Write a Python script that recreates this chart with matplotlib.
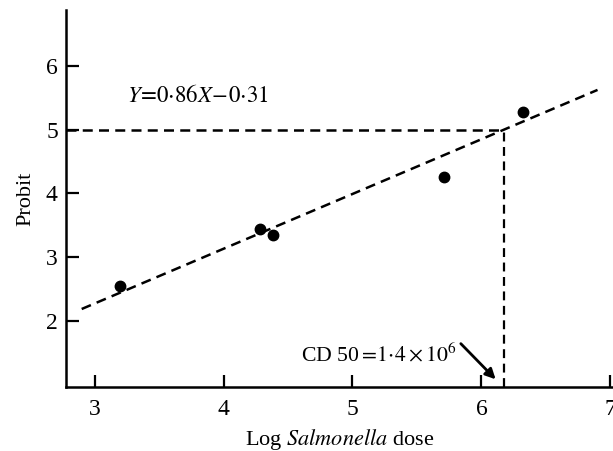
import numpy as np
import matplotlib
matplotlib.use("Agg")
import matplotlib.pyplot as plt

plt.rcParams['font.family'] = ['Liberation Serif', 'DejaVu Serif']
plt.rcParams['mathtext.fontset'] = 'stix'

# observed points (log dose, probit)
log_dose = [3.2, 4.28, 4.38, 5.71, 6.32]
probit = [2.55, 3.44, 3.34, 4.25, 5.28]

# fitted line Y = 0.86X - 0.31
slope, intercept = 0.86, -0.31
fit_x = [2.9, 6.9]
cd50_x = (5 - intercept) / slope

xticks = [3, 4, 5, 6, 7]
yticks = [2, 3, 4, 5, 6]

fig = plt.figure(figsize=(6.13, 4.51), dpi=100)
ax = fig.add_axes([0.108, 0.142, 0.892, 0.836])

ax.plot(log_dose, probit, 'o', color='black', markersize=7.5)
fx = np.array(fit_x)
ax.plot(fx, slope * fx + intercept, '--', color='black', lw=1.8, dashes=(4, 2.5))

# CD50 guides
ax.plot([2.78, cd50_x], [5, 5], '--', color='black', lw=1.8, dashes=(4, 2.5))
ax.plot([cd50_x, cd50_x], [0.96, 5], '--', color='black', lw=1.6, dashes=(4, 2.5))

ax.text(3.25, 5.53, r'$Y\!=\!0{\cdot}86X\!-\!0{\cdot}31$', fontsize=16.5, va='center', ha='left')
ax.text(4.6, 1.47, r'CD 50$=\!1{\cdot}4\times10^6$', fontsize=15.7, va='center', ha='left')
ax.annotate('', xy=(6.11, 1.08), xytext=(5.84, 1.64),
            arrowprops=dict(arrowstyle='-|>', color='black', lw=2, mutation_scale=15,
                            shrinkA=0, shrinkB=0))

ax.set_xlim(2.78, 7.02)
ax.set_ylim(0.96, 6.88)
ax.set_xticks(xticks)
ax.set_yticks(yticks)
ax.tick_params(direction='in', length=9, width=1.6, labelsize=17, pad=9)
ax.tick_params(axis='y', pad=6)

for s in ['top', 'right']:
    ax.spines[s].set_visible(False)
for s in ['left', 'bottom']:
    ax.spines[s].set_linewidth(1.8)

ax.set_xlabel('Log $\\it{Salmonella}$ dose', fontsize=16, labelpad=5)
ax.set_ylabel('Probit', fontsize=16, labelpad=8)

fig.savefig('out.png', dpi=100)
